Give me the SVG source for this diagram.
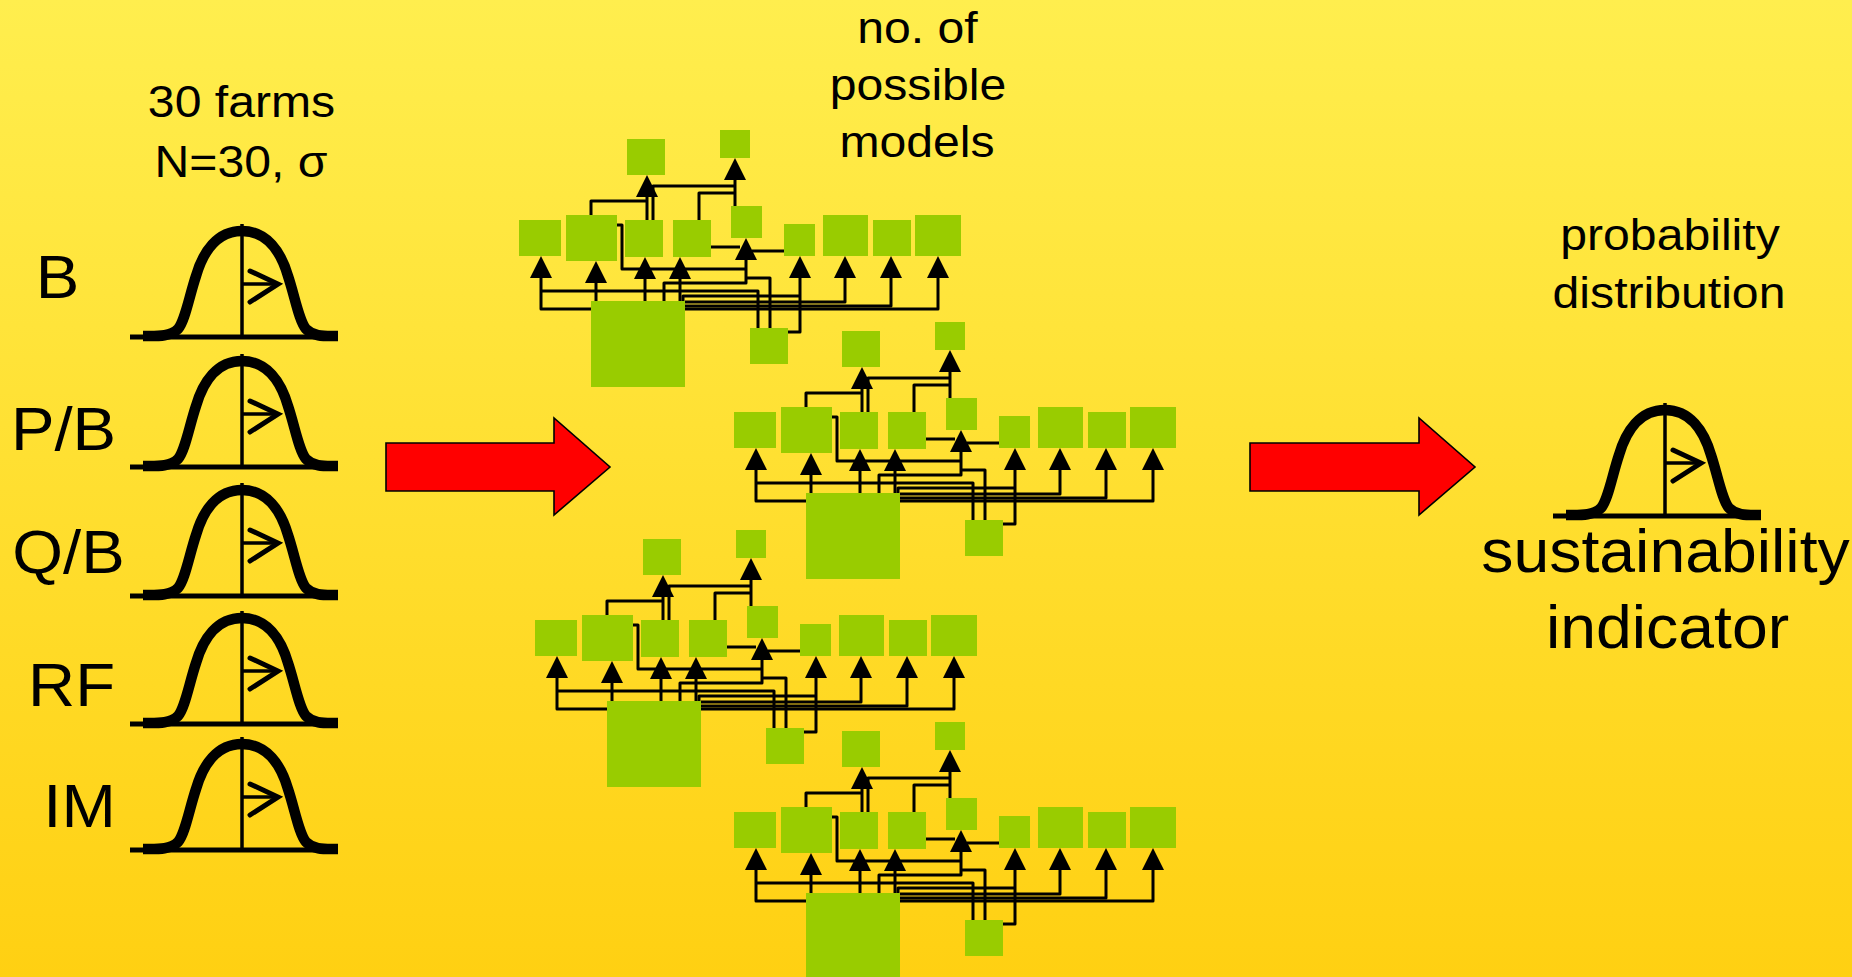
<svg xmlns="http://www.w3.org/2000/svg" xmlns:xlink="http://www.w3.org/1999/xlink" width="1852" height="977" viewBox="0 0 1852 977">
<defs>
<linearGradient id="bg" x1="0" y1="0" x2="0" y2="1">
<stop offset="0" stop-color="#FFEE4E"/>
<stop offset="1" stop-color="#FFD012"/>
</linearGradient>
<style>
text{font-family:"Liberation Sans",Arial,sans-serif;fill:#000;text-anchor:middle}
.t45{font-size:45px}
.t61{font-size:61px}
.box{fill:#99CC00}
.red{fill:#FF0000;stroke:#000;stroke-width:1.6;stroke-linejoin:miter}
</style>
<path id="ah" d="M0,0 L11,22 L-11,22 Z" fill="#000"/>
<g id="bell" fill="none" stroke="#000">
<path d="M-112,0 H96" stroke-width="5"/>
<path d="M0,-113 V0" stroke-width="3.5"/>
<path d="M-99,-1 C-85,-1 -72,0 -64,-8 C-57,-16 -53,-40 -46,-61 C-39,-85 -25,-106 0,-106 C25,-106 39,-85 46,-61 C53,-40 57,-16 64,-8 C72,0 82,-1 96,-1" stroke-width="10.5"/>
<path d="M0,-53 H36" stroke-width="3.5"/>
<path d="M8,-66 L36,-53 L8,-35" stroke-width="5" stroke-linecap="round"/>
</g>
<g id="links">
<g fill="none" stroke="#000" stroke-width="3" stroke-linejoin="round">
<path d="M591,309 H541 V278"/>
<path d="M758,328 V291 H541"/>
<path d="M596,301 V283"/>
<path d="M645,301 V279"/>
<path d="M680,301 V279"/>
<path d="M664,301 V283 H746 V260"/>
<path d="M617,225 H622 V269 H746"/>
<path d="M711,247 H740"/>
<path d="M784,251 H752"/>
<path d="M770,328 V278 H746"/>
<path d="M788,332 H800 V278"/>
<path d="M683,301 V296 H800"/>
<path d="M685,302 H845 V278"/>
<path d="M685,306 H891 V278"/>
<path d="M685,309 H938 V278"/>
<path d="M647,220 V197"/>
<path d="M653,220 V186 H735"/>
<path d="M591,215 V201 H647"/>
<path d="M735,206 V180"/>
<path d="M699,220 V193 H735"/>
</g>
<use xlink:href="#ah" x="541" y="256"/>
<use xlink:href="#ah" x="596" y="261"/>
<use xlink:href="#ah" x="645" y="257"/>
<use xlink:href="#ah" x="680" y="257"/>
<use xlink:href="#ah" x="746" y="238"/>
<use xlink:href="#ah" x="800" y="256"/>
<use xlink:href="#ah" x="845" y="256"/>
<use xlink:href="#ah" x="891" y="256"/>
<use xlink:href="#ah" x="938" y="256"/>
<use xlink:href="#ah" x="647" y="175"/>
<use xlink:href="#ah" x="735" y="158"/>
</g>
</defs>

<rect x="0" y="0" width="1852" height="977" fill="url(#bg)"/>

<g id="titles">
<text class="t45" transform="translate(241.5,117) scale(1.07,1)">30 farms</text>
<text class="t45" transform="translate(241,177) scale(1.07,1)">N=30, σ</text>
<text class="t45" transform="translate(917.5,43) scale(1.07,1)">no. of</text>
<text class="t45" transform="translate(918,100) scale(1.07,1)">possible</text>
<text class="t45" transform="translate(917,157) scale(1.07,1)">models</text>
<text class="t45" transform="translate(1670,250) scale(1.07,1)">probability</text>
<text class="t45" transform="translate(1669,308) scale(1.07,1)">distribution</text>
</g>

<g id="input-B"><use xlink:href="#bell" transform="translate(242,337)"/><text class="t61" transform="translate(57.5,298) scale(1.07,1)">B</text></g>
<g id="input-PB"><use xlink:href="#bell" transform="translate(242,467)"/><text class="t61" transform="translate(63.5,450) scale(1.07,1)">P/B</text></g>
<g id="input-QB"><use xlink:href="#bell" transform="translate(242,596)"/><text class="t61" transform="translate(68.5,573) scale(1.07,1)">Q/B</text></g>
<g id="input-RF"><use xlink:href="#bell" transform="translate(242,724)"/><text class="t61" transform="translate(71.5,706) scale(1.07,1)">RF</text></g>
<g id="input-IM"><use xlink:href="#bell" transform="translate(242,850)"/><text class="t61" transform="translate(79.5,827) scale(1.07,1)">IM</text></g>

<g id="arrow-1"><path class="red" d="M386,443 H554 V418 L610,467 L554,515 V491 H386 Z"/></g>
<g id="arrow-2"><path class="red" d="M1250,443 H1419 V418 L1475,467 L1419,515 V491 H1250 Z"/></g>

<g id="output"><use xlink:href="#bell" transform="translate(1665,516)"/>
<text class="t61" transform="translate(1665.5,572) scale(1.055,1)">sustainability</text>
<text class="t61" transform="translate(1667.5,648) scale(1.055,1)">indicator</text>
</g>

<g id="net1">
<g id="net1-connectors"><use xlink:href="#links"/></g>
<g id="net1-T1"><rect class="box" x="627" y="139" width="38" height="36"/></g>
<g id="net1-T2"><rect class="box" x="720" y="130" width="30" height="28"/></g>
<g id="net1-R1"><rect class="box" x="519" y="220" width="42" height="36"/></g>
<g id="net1-R2"><rect class="box" x="566" y="215" width="51" height="46"/></g>
<g id="net1-R3"><rect class="box" x="625" y="220" width="38" height="37"/></g>
<g id="net1-R4"><rect class="box" x="673" y="220" width="38" height="37"/></g>
<g id="net1-R5"><rect class="box" x="731" y="206" width="31" height="32"/></g>
<g id="net1-R6"><rect class="box" x="784" y="224" width="31" height="32"/></g>
<g id="net1-R7"><rect class="box" x="823" y="215" width="45" height="41"/></g>
<g id="net1-R8"><rect class="box" x="873" y="220" width="38" height="36"/></g>
<g id="net1-R9"><rect class="box" x="915" y="215" width="46" height="41"/></g>
<g id="net1-BIG"><rect class="box" x="591" y="301" width="94" height="86"/></g>
<g id="net1-S"><rect class="box" x="750" y="328" width="38" height="36"/></g>
</g>

<g id="net2" transform="translate(215,192)">
<g id="net2-connectors"><use xlink:href="#links"/></g>
<g id="net2-T1"><rect class="box" x="627" y="139" width="38" height="36"/></g>
<g id="net2-T2"><rect class="box" x="720" y="130" width="30" height="28"/></g>
<g id="net2-R1"><rect class="box" x="519" y="220" width="42" height="36"/></g>
<g id="net2-R2"><rect class="box" x="566" y="215" width="51" height="46"/></g>
<g id="net2-R3"><rect class="box" x="625" y="220" width="38" height="37"/></g>
<g id="net2-R4"><rect class="box" x="673" y="220" width="38" height="37"/></g>
<g id="net2-R5"><rect class="box" x="731" y="206" width="31" height="32"/></g>
<g id="net2-R6"><rect class="box" x="784" y="224" width="31" height="32"/></g>
<g id="net2-R7"><rect class="box" x="823" y="215" width="45" height="41"/></g>
<g id="net2-R8"><rect class="box" x="873" y="220" width="38" height="36"/></g>
<g id="net2-R9"><rect class="box" x="915" y="215" width="46" height="41"/></g>
<g id="net2-BIG"><rect class="box" x="591" y="301" width="94" height="86"/></g>
<g id="net2-S"><rect class="box" x="750" y="328" width="38" height="36"/></g>
</g>

<g id="net3" transform="translate(16,400)">
<g id="net3-connectors"><use xlink:href="#links"/></g>
<g id="net3-T1"><rect class="box" x="627" y="139" width="38" height="36"/></g>
<g id="net3-T2"><rect class="box" x="720" y="130" width="30" height="28"/></g>
<g id="net3-R1"><rect class="box" x="519" y="220" width="42" height="36"/></g>
<g id="net3-R2"><rect class="box" x="566" y="215" width="51" height="46"/></g>
<g id="net3-R3"><rect class="box" x="625" y="220" width="38" height="37"/></g>
<g id="net3-R4"><rect class="box" x="673" y="220" width="38" height="37"/></g>
<g id="net3-R5"><rect class="box" x="731" y="206" width="31" height="32"/></g>
<g id="net3-R6"><rect class="box" x="784" y="224" width="31" height="32"/></g>
<g id="net3-R7"><rect class="box" x="823" y="215" width="45" height="41"/></g>
<g id="net3-R8"><rect class="box" x="873" y="220" width="38" height="36"/></g>
<g id="net3-R9"><rect class="box" x="915" y="215" width="46" height="41"/></g>
<g id="net3-BIG"><rect class="box" x="591" y="301" width="94" height="86"/></g>
<g id="net3-S"><rect class="box" x="750" y="328" width="38" height="36"/></g>
</g>

<g id="net4" transform="translate(215,592)">
<g id="net4-connectors"><use xlink:href="#links"/></g>
<g id="net4-T1"><rect class="box" x="627" y="139" width="38" height="36"/></g>
<g id="net4-T2"><rect class="box" x="720" y="130" width="30" height="28"/></g>
<g id="net4-R1"><rect class="box" x="519" y="220" width="42" height="36"/></g>
<g id="net4-R2"><rect class="box" x="566" y="215" width="51" height="46"/></g>
<g id="net4-R3"><rect class="box" x="625" y="220" width="38" height="37"/></g>
<g id="net4-R4"><rect class="box" x="673" y="220" width="38" height="37"/></g>
<g id="net4-R5"><rect class="box" x="731" y="206" width="31" height="32"/></g>
<g id="net4-R6"><rect class="box" x="784" y="224" width="31" height="32"/></g>
<g id="net4-R7"><rect class="box" x="823" y="215" width="45" height="41"/></g>
<g id="net4-R8"><rect class="box" x="873" y="220" width="38" height="36"/></g>
<g id="net4-R9"><rect class="box" x="915" y="215" width="46" height="41"/></g>
<g id="net4-BIG"><rect class="box" x="591" y="301" width="94" height="86"/></g>
<g id="net4-S"><rect class="box" x="750" y="328" width="38" height="36"/></g>
</g>
</svg>
